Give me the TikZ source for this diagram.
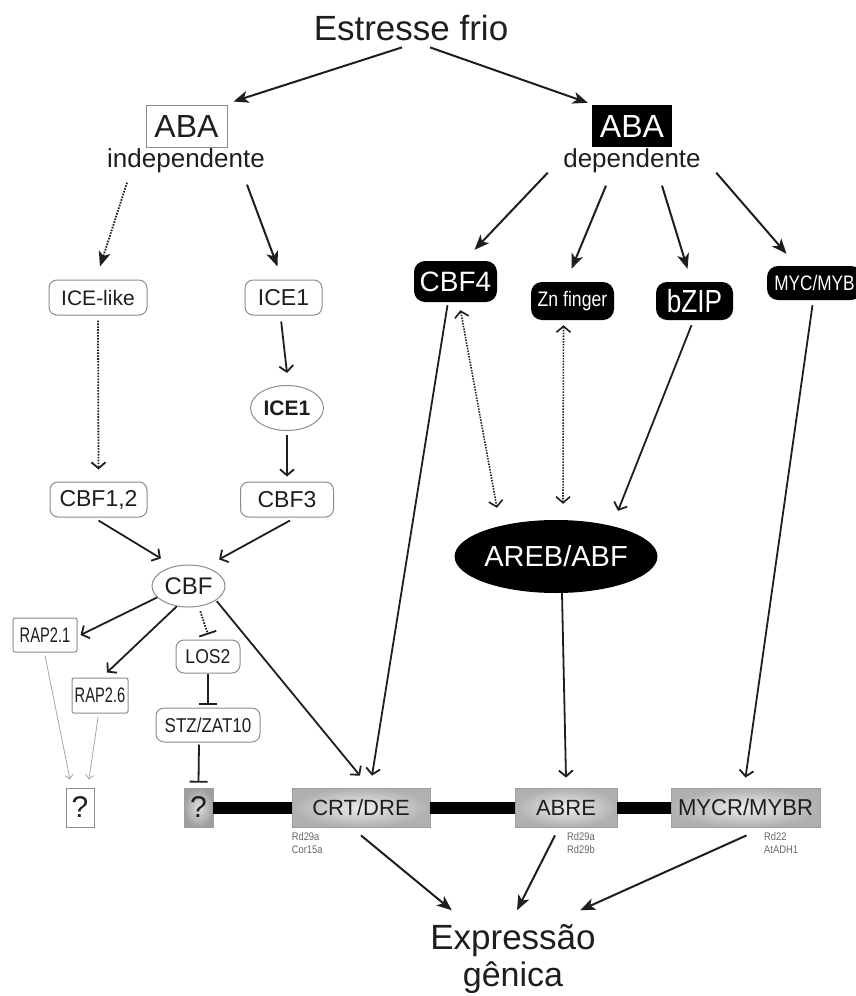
\documentclass[tikz,border=0pt]{standalone}
\usepackage{fontspec}
\setmainfont{Liberation Sans}
\usepackage{graphicx}
\usetikzlibrary{arrows.meta,shapes.geometric}
\newcommand\myfs[1]{\fontsize{#1}{#1}\selectfont}
\newcommand\nrw[2]{\scalebox{#1}[1]{#2}}
\definecolor{txt}{HTML}{1E1E1E}
\definecolor{edg}{HTML}{8C8C8C}
\begin{document}
\begin{tikzpicture}[x=1pt,y=-1pt,
 rbox/.style={draw=edg,line width=1pt,rounded corners=8pt,fill=white,text=txt,inner sep=0pt},
 sbox/.style={draw=edg,line width=1pt,rounded corners=2pt,fill=white,text=txt,inner sep=0pt},
 oval/.style={ellipse,draw=edg,line width=1pt,text=txt,inner sep=0pt},
 blk/.style={fill=black,rounded corners=11pt,text=white,inner sep=0pt},
 gbox/.style={draw=gray!75,line width=0.8pt,inner color=gray!15,outer color=gray!62,text=txt,inner sep=0pt,minimum height=39pt},
 lbl/.style={text=gray!80!black,align=left,inner sep=0pt,font=\fontsize{11}{13}\selectfont},
 fa/.style={line width=2pt,draw=txt,-{Stealth[length=15pt,width=12pt,inset=4pt]}},
 oa/.style={line width=1.8pt,draw=txt,-{Straight Barb[length=6pt,width=14pt]}},
 fdot/.style={line width=1.8pt,draw=txt,dash pattern=on 1.6pt off 1.3pt,-{Stealth[length=15pt,width=12pt,inset=4pt]}},
 odot/.style={line width=1.8pt,draw=txt,dash pattern=on 1.6pt off 1.3pt,-{Straight Barb[length=6pt,width=14pt]}},
 ddot/.style={line width=1.6pt,draw=txt,dash pattern=on 1.5pt off 1.3pt,{Straight Barb[length=6pt,width=14pt]}-{Straight Barb[length=6pt,width=14pt]}},
 tbar/.style={line width=1.8pt,draw=txt,-{Bar[width=18pt]}},
 dtbar/.style={line width=1.8pt,draw=txt,dash pattern=on 1.6pt off 1.3pt,-{Bar[width=18pt]}},
 garr/.style={line width=0.8pt,draw=gray!70,-{Straight Barb[length=4pt,width=8pt]}}
]
\useasboundingbox (0,0) rectangle (855,996);

% top
\node[text=txt,font=\myfs{35}] (title) at (411,28) {Estresse frio};
\node[draw=edg,line width=1pt,minimum width=81pt,minimum height=42pt,inner sep=0pt,text=txt,font=\myfs{32}] (abaL) at (186.5,126) {ABA};
\node[text=txt,font=\myfs{26}] (indep) at (186,161) {independente};
\node[fill=black,minimum width=80pt,minimum height=42pt,inner sep=0pt,text=white,font=\myfs{32}] (abaR) at (632,126) {ABA};
\node[text=txt,font=\myfs{26}] (dep) at (632,161) {dependente};

% left branch
\node[rbox,minimum width=98pt,minimum height=35pt,font=\myfs{21}] (icel) at (98,297.5) {ICE-like};
\node[rbox,minimum width=77pt,minimum height=35pt,font=\myfs{23}] (iceb) at (283.5,297.5) {ICE1};
\node[oval,minimum width=73pt,minimum height=45pt,font=\bfseries\myfs{21}] (icee) at (287,408) {ICE1};
\node[rbox,minimum width=97pt,minimum height=35pt,font=\myfs{23}] (cbfa) at (98.5,499.5) {CBF1,2};
\node[rbox,minimum width=93pt,minimum height=35pt,font=\myfs{23}] (cbfb) at (287,499.5) {CBF3};
\node[oval,minimum width=73pt,minimum height=42pt,font=\myfs{24}] (cbf) at (188.5,586) {CBF};
\node[sbox,minimum width=64pt,minimum height=34pt,font=\myfs{21}] (rapa) at (45,635) {\nrw{0.7}{RAP2.1}};
\node[sbox,minimum width=56pt,minimum height=35pt,font=\myfs{21}] (rapb) at (100,695.5) {\nrw{0.7}{RAP2.6}};
\node[rbox,minimum width=64pt,minimum height=33pt,font=\myfs{20}] (los) at (208,656.5) {\nrw{0.88}{LOS2}};
\node[rbox,minimum width=104pt,minimum height=34pt,font=\myfs{20}] (stz) at (208,725) {\nrw{0.85}{STZ/ZAT10}};
\node[draw=edg,line width=1pt,fill=white,minimum width=28pt,minimum height=39pt,inner sep=0pt,text=txt,font=\myfs{30}] (qa) at (80,807.5) {?};

% promoter row
\node[gbox,minimum width=29pt,font=\myfs{30},inner color=gray!25,outer color=gray!75] (qb) at (198.5,807.5) {?};
\node[gbox,minimum width=138pt,font=\myfs{22}] (crt) at (361,807.5) {CRT/DRE};
\node[gbox,minimum width=102pt,font=\myfs{22}] (abre) at (566,807.5) {ABRE};
\node[gbox,minimum width=149pt,font=\myfs{23}] (mycr) at (745.5,807.5) {\nrw{0.96}{MYCR/MYBR}};
\draw[line width=12pt,black] (qb.east) -- (crt.west) (crt.east) -- (abre.west) (abre.east) -- (mycr.west);

\node[lbl,anchor=north west] (la) at ([yshift=-5pt]crt.south west) {\nrw{0.85}{Rd29a}\\\nrw{0.85}{Cor15a}};
\node[lbl,anchor=north west] (lb) at ([xshift=1pt,yshift=-5pt]abre.south) {\nrw{0.85}{Rd29a}\\\nrw{0.85}{Rd29b}};
\node[lbl,anchor=north west] (lc) at ([xshift=18.5pt,yshift=-5pt]mycr.south) {\nrw{0.85}{Rd22}\\\nrw{0.85}{AtADH1}};

% right branch
\node[blk,minimum width=83pt,minimum height=41pt,font=\myfs{28}] (cbf4) at (455.5,281.5) {CBF4};
\node[blk,minimum width=83pt,minimum height=38pt,font=\myfs{21}] (zn) at (572.5,301) {\nrw{0.84}{Zn finger}};
\node[blk,minimum width=77pt,minimum height=38pt,font=\myfs{32}] (bzip) at (694.5,301) {\nrw{0.82}{bZIP}};
\node[blk,minimum width=95pt,minimum height=34pt,font=\myfs{21}] (myc) at (814.5,283) {\nrw{0.82}{MYC/MYB}};
\node[ellipse,fill=black,minimum width=200pt,minimum height=73pt,text=white,font=\myfs{29},inner sep=0pt] (areb) at (556,556.5) {AREB/ABF};

% bottom
\node[text=txt,font=\myfs{35}] (expa) at (513,941) {Expressão};
\node[text=txt,font=\myfs{34}] (expb) at (513,978) {gênica};

% arrows top
\draw[fa] ([xshift=-9pt,yshift=-3pt]title.south) -- ([xshift=6pt,yshift=3pt]abaL.north east);
\draw[fa] ([xshift=19pt,yshift=-3pt]title.south) -- ([xshift=-4pt,yshift=2pt]abaR.north west);
\draw[fdot] ([xshift=-59pt,yshift=-6pt]indep.south) -- ([xshift=2pt,yshift=13pt]icel.north);
\draw[fa] ([xshift=61pt,yshift=-8pt]indep.south) -- ([xshift=-6pt,yshift=13pt]iceb.north);
\draw[fa] ([xshift=-12pt,yshift=4pt]dep.south west) -- ([xshift=19pt,yshift=11pt]cbf4.north);
\draw[fa] ([xshift=-26pt,yshift=-9pt]dep.south) -- ([xshift=-1pt,yshift=13pt]zn.north);
\draw[fa] ([xshift=30pt,yshift=-9pt]dep.south) -- ([xshift=-7pt,yshift=13pt]bzip.north);
\draw[fa] ([xshift=12pt,yshift=4pt]dep.south east) -- ([xshift=-28pt,yshift=12pt]myc.north);

% left arrows
\draw[odot,shorten <=5pt] (icel.south) -- ([yshift=12pt]cbfa.north);
\draw[oa,shorten <=6pt] ([xshift=-3pt]iceb.south) -- ([yshift=12pt]icee.north);
\draw[oa,shorten <=4pt] (icee.south) -- ([yshift=5pt]cbfb.north);
\draw[oa] ([yshift=-3pt]cbfa.south) -- ([xshift=-9pt,yshift=9pt]cbf.135);
\draw[oa] ([xshift=3pt,yshift=-3pt]cbfb.south) -- ([xshift=12pt,yshift=8pt]cbf.45);
\draw[oa] (cbf.200) -- ([xshift=3pt]rapa.east);
\draw[oa] (cbf.240) -- ([xshift=7pt,yshift=5pt]rapb.north);
\draw[dtbar] ([yshift=-5pt]cbf.-60) -- ([yshift=5pt]los.north);
\draw[tbar] (los.south) -- ([yshift=3pt]stz.north);
\draw[tbar] ([xshift=-9pt,yshift=-2pt]stz.south) -- ([yshift=5pt]qb.north);
\draw[garr] ([yshift=-3pt]rapa.south) -- ([xshift=-10pt,yshift=8pt]qa.north);
\draw[garr] ([xshift=-2pt,yshift=-4pt]rapb.south) -- ([xshift=9pt,yshift=8pt]qa.north);
\draw[oa] ([xshift=2pt]cbf.-30) -- ([xshift=-1pt,yshift=12pt]crt.north);

% right arrows
\draw[oa] ([xshift=-8pt,yshift=-3pt]cbf4.south) -- ([xshift=11pt,yshift=12pt]crt.north);
\draw[ddot] ([xshift=5pt,yshift=-8pt]cbf4.south) -- ([xshift=-59pt,yshift=12pt]areb.north);
\draw[ddot] ([xshift=-9pt,yshift=-5pt]zn.south) -- ([xshift=7pt,yshift=16pt]areb.north);
\draw[oa] ([xshift=-3pt,yshift=-5pt]bzip.south) -- ([xshift=62pt,yshift=9pt]areb.north);
\draw[oa] ([xshift=-2pt,yshift=-5pt]myc.south) -- ([yshift=10pt]mycr.north);
\draw[oa] ([xshift=6pt]areb.south) -- ([yshift=10pt]abre.north);

% to expression
\draw[fa] ([yshift=-8pt]crt.south) -- ([xshift=25pt,yshift=11pt]expa.north west);
\draw[fa] ([xshift=-11pt,yshift=-8pt]abre.south) -- ([xshift=4pt,yshift=11pt]expa.north);
\draw[fa] ([xshift=1pt,yshift=-8pt]mycr.south) -- ([xshift=-19pt,yshift=11pt]expa.north east);
\end{tikzpicture}
\end{document}
